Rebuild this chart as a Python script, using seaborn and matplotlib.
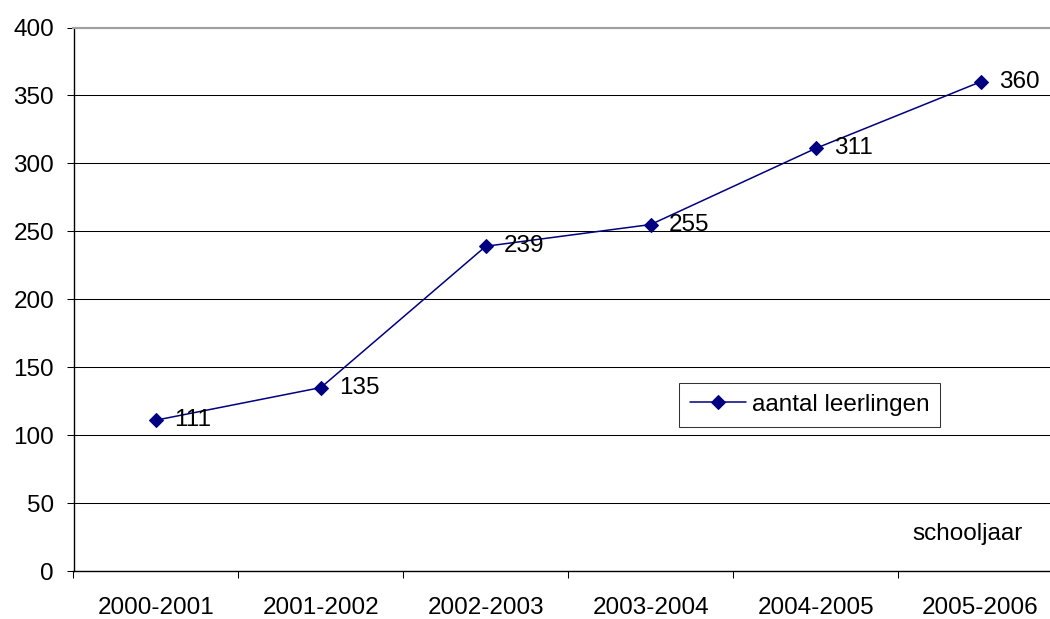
import matplotlib
matplotlib.use('Agg')
import matplotlib.pyplot as plt
from matplotlib.ticker import FixedLocator, MultipleLocator
import seaborn as sns
import pandas as pd

# chart data
schooljaren = ['2000-2001', '2001-2002', '2002-2003', '2003-2004', '2004-2005', '2005-2006']
leerlingen = [111, 135, 239, 255, 311, 360]

df = pd.DataFrame({'schooljaar': schooljaren, 'aantal leerlingen': leerlingen})

sns.set_style('white')
plt.rcParams['font.family'] = ['Liberation Sans', 'DejaVu Sans']
plt.rcParams['font.size'] = 17.5
plt.rcParams['text.color'] = 'black'
plt.rcParams['xtick.color'] = 'black'
plt.rcParams['ytick.color'] = 'black'
plt.rcParams['axes.labelcolor'] = 'black'

navy = '#000080'

fig = plt.figure(figsize=(10.5, 6.19), dpi=100)
# plot area runs a bit past the right edge of the picture, as in the original
ax = fig.add_axes([73.5 / 1050, 48 / 619, (1063 - 73.5) / 1050, 543.5 / 619])

sns.lineplot(data=df, x='schooljaar', y='aantal leerlingen', ax=ax, color=navy,
             marker='D', markersize=7, markeredgecolor=navy, linewidth=1.1,
             label='aantal leerlingen', sort=False)

# data labels next to each point
for i, v in enumerate(leerlingen):
    ax.annotate(str(v), (i, v), xytext=(13, 0), textcoords='offset points',
                ha='left', va='center', fontsize=17.5, color='black')

ax.set_xlim(-0.5, len(schooljaren) - 0.5)
ax.set_ylim(0, 400)
ax.yaxis.set_major_locator(MultipleLocator(50))
ax.yaxis.grid(True, color='black', linewidth=0.75)
ax.xaxis.grid(False)

# category labels centred, tick marks between categories
ax.set_xticks(range(len(schooljaren)))
ax.set_xticklabels(schooljaren)
ax.xaxis.set_minor_locator(FixedLocator([k - 0.5 for k in range(len(schooljaren) + 1)]))
ax.tick_params(axis='x', which='major', length=0, pad=19, labelsize=17.5, labelcolor='black')
ax.tick_params(axis='x', which='minor', length=5, width=0.75, color='black', direction='out', bottom=True)
ax.tick_params(axis='y', which='major', length=5, width=0.75, color='black', direction='out',
               left=True, pad=9, labelsize=17.5, labelcolor='black')

ax.set_xlabel('')
ax.set_ylabel('')

for side in ['left', 'bottom']:
    ax.spines[side].set_color('black')
    ax.spines[side].set_linewidth(1.0)
ax.spines['top'].set_color('#a0a0a0')
ax.spines['top'].set_linewidth(1.5)
ax.spines['right'].set_visible(False)

fig.text(912 / 1050, 1 - 534 / 619, 'schooljaar', ha='left', va='center', fontsize=17.5, color='black')

leg = ax.legend(loc='upper left', bbox_to_anchor=(679 / 1050, 1 - 383 / 619),
                bbox_transform=fig.transFigure, borderaxespad=0, frameon=True,
                fancybox=False, edgecolor='black', handlelength=2.3, handletextpad=0.25,
                borderpad=0.45, fontsize=17.5)
leg.get_frame().set_linewidth(0.75)
for t in leg.get_texts():
    t.set_color('black')

plt.savefig('out.png', dpi=100)
plt.close()
